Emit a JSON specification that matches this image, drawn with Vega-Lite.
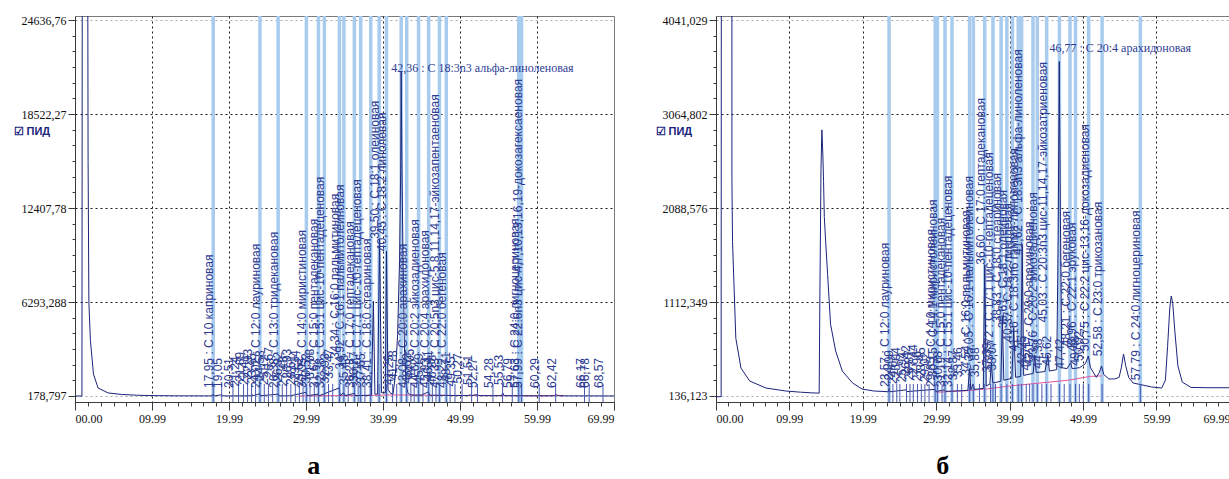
{
  "$schema": "https://vega.github.io/schema/vega-lite/v6.json",
  "background": "white",
  "padding": {"left": 12, "top": 13, "right": 0, "bottom": 0},
  "config": {
    "view": {"stroke": "#7a7a7a", "strokeWidth": 1},
    "axis": {"domainColor": "#3a3a3a", "tickColor": "#3a3a3a", "labelFont": "Liberation Sans Narrow", "labelFontSize": 12, "labelColor": "#111111", "labelPadding": 2}
  },
  "datasets": {
    "traceA": [
      {"t":0,"v":175},{"t":0.9,"v":178},{"t":0.95,"v":30000},{"t":1.65,"v":30000},{"t":1.7,"v":15500},{"t":1.8,"v":6300},{"t":2.0,"v":3800},{"t":2.4,"v":1600},{"t":3.0,"v":700},{"t":4.3,"v":380},{"t":6.0,"v":280},{"t":8.0,"v":230},{"t":10,"v":205},{"t":13,"v":190},{"t":17.8,"v":185},{"t":17.95,"v":300},{"t":18.1,"v":185},{"t":19.05,"v":260},{"t":19.2,"v":185},{"t":22.9,"v":190},{"t":23.0,"v":280},{"t":23.1,"v":190},{"t":24.0,"v":330},{"t":24.1,"v":190},{"t":26.4,"v":300},{"t":26.5,"v":190},{"t":28.0,"v":190},{"t":30.0,"v":420},{"t":30.15,"v":195},{"t":31.6,"v":300},{"t":31.7,"v":195},{"t":34.3,"v":700},{"t":34.45,"v":200},{"t":34.9,"v":400},{"t":35.0,"v":200},{"t":36.3,"v":350},{"t":36.4,"v":205},{"t":38.5,"v":230},{"t":38.75,"v":6350},{"t":38.95,"v":300},{"t":39.3,"v":300},{"t":39.55,"v":10400},{"t":39.8,"v":400},{"t":40.3,"v":380},{"t":40.45,"v":9600},{"t":40.65,"v":600},{"t":41.0,"v":350},{"t":41.3,"v":300},{"t":41.6,"v":1500},{"t":41.9,"v":4200},{"t":42.15,"v":9000},{"t":42.3,"v":15000},{"t":42.36,"v":21300},{"t":42.45,"v":15500},{"t":42.6,"v":9000},{"t":42.8,"v":3000},{"t":43.0,"v":900},{"t":43.2,"v":420},{"t":43.5,"v":260},{"t":44.0,"v":230},{"t":45.0,"v":240},{"t":45.9,"v":450},{"t":46.05,"v":230},{"t":48.0,"v":220},{"t":49.0,"v":210},{"t":51.2,"v":205},{"t":51.3,"v":280},{"t":51.45,"v":205},{"t":52.3,"v":280},{"t":52.45,"v":200},{"t":55.4,"v":200},{"t":55.55,"v":380},{"t":55.75,"v":200},{"t":60.2,"v":185},{"t":60.3,"v":240},{"t":60.4,"v":185},{"t":62.3,"v":190},{"t":62.5,"v":260},{"t":62.8,"v":190},{"t":66.5,"v":185},{"t":66.6,"v":230},{"t":66.7,"v":185},{"t":70,"v":182}
    ],
    "baseA": [
      {"t":29,"v":185},{"t":38,"v":215},{"t":41,"v":250},{"t":47,"v":220},{"t":58,"v":200},{"t":61.5,"v":205},{"t":62.5,"v":225},{"t":63.5,"v":200}
    ],
    "greenA": [{"t":30.3},{"t":34.6},{"t":43.7}],
    "peaksA": [
      {"t":17.95,"v":700,"lab":"17,95 : С 10 каприновая","k":"n"},
      {"t":19.05,"v":700,"lab":"19,05","k":"u"},
      {"t":20.51,"v":700,"lab":"20,51","k":"u"},
      {"t":21.24,"v":800,"lab":"21,24","k":"u"},
      {"t":21.89,"v":1100,"lab":"21,89","k":"u"},
      {"t":22.41,"v":900,"lab":"22,41","k":"u"},
      {"t":22.93,"v":1300,"lab":"22,93","k":"u"},
      {"t":23.45,"v":1000,"lab":"23,45","k":"u"},
      {"t":24.02,"v":700,"lab":"24,02 : С 12:0 лауриновая","k":"n"},
      {"t":24.58,"v":1200,"lab":"24,58","k":"u"},
      {"t":25.12,"v":900,"lab":"25,12","k":"u"},
      {"t":25.67,"v":1400,"lab":"25,67","k":"u"},
      {"t":26.38,"v":700,"lab":"26,38 : С 13:0 тридекановая","k":"n"},
      {"t":26.92,"v":1100,"lab":"26,92","k":"u"},
      {"t":27.48,"v":800,"lab":"27,48","k":"u"},
      {"t":28.03,"v":1300,"lab":"28,03","k":"u"},
      {"t":28.61,"v":900,"lab":"28,61","k":"u"},
      {"t":29.14,"v":1200,"lab":"29,14","k":"u"},
      {"t":29.62,"v":800,"lab":"29,62","k":"u"},
      {"t":30.05,"v":700,"lab":"30,05 : С 14:0 миристиновая","k":"n"},
      {"t":30.52,"v":1000,"lab":"30,52","k":"u"},
      {"t":31.08,"v":1300,"lab":"31,08","k":"u"},
      {"t":31.62,"v":700,"lab":"31,62 : С 15:0 пентадекановая","k":"n"},
      {"t":32.38,"v":700,"lab":"32,38 : С 15:1 цис-10-пентадеценовая","k":"n"},
      {"t":32.93,"v":1000,"lab":"32,93","k":"u"},
      {"t":33.47,"v":1300,"lab":"33,47","k":"u"},
      {"t":34.34,"v":2600,"lab":"34,34 : С 16:0 пальмитиновая","k":"n"},
      {"t":34.92,"v":1900,"lab":"34,92 : С 16:1 пальмитолеиновая","k":"n"},
      {"t":35.48,"v":900,"lab":"35,48","k":"u"},
      {"t":36.28,"v":700,"lab":"36,28 : С 17:0 гептадекановая","k":"n"},
      {"t":36.77,"v":1100,"lab":"36,77","k":"u"},
      {"t":37.10,"v":700,"lab":"37,10 : С 17:1 цис-10-гептадеценовая","k":"n"},
      {"t":37.65,"v":1000,"lab":"37,65","k":"u"},
      {"t":38.41,"v":700,"lab":"38,41 : С 18:0 стеариновая","k":"n"},
      {"t":39.50,"v":10400,"lab":"39,50 : С 18:1 олеиновая","k":"n"},
      {"t":40.45,"v":9600,"lab":"40,45 : С 18:2 линолевая","k":"n"},
      {"t":41.25,"v":900,"lab":"41,25","k":"u"},
      {"t":41.78,"v":1200,"lab":"41,78","k":"u"},
      {"t":42.36,"v":21300,"lab":"42,36 : С 18:3n3 альфа-линоленовая","k":"t"},
      {"t":43.08,"v":700,"lab":"43,08 : С 20:0 арахиновая","k":"n"},
      {"t":43.62,"v":1000,"lab":"43,62","k":"u"},
      {"t":44.05,"v":1300,"lab":"44,05","k":"u"},
      {"t":44.62,"v":700,"lab":"44,62 : С 20:2 эйкозадиеновая","k":"n"},
      {"t":45.19,"v":1000,"lab":"45,19","k":"u"},
      {"t":45.93,"v":700,"lab":"45,93 : С 20:4 арахидоновая","k":"n"},
      {"t":46.41,"v":1200,"lab":"46,41","k":"u"},
      {"t":46.88,"v":900,"lab":"46,88","k":"u"},
      {"t":47.33,"v":700,"lab":"47,33 : С 20:5n3 цис-5,8,11,14,17-эйкозапентаеновая","k":"n"},
      {"t":48.22,"v":700,"lab":"48,22 : С 22:0 бегеновая","k":"n"},
      {"t":48.71,"v":1100,"lab":"48,71","k":"u"},
      {"t":49.35,"v":800,"lab":"49,35","k":"u"},
      {"t":50.27,"v":1000,"lab":"50,27","k":"u"},
      {"t":51.51,"v":900,"lab":"51,51","k":"u"},
      {"t":52.27,"v":700,"lab":"52,27","k":"u"},
      {"t":54.28,"v":700,"lab":"54,28","k":"u"},
      {"t":55.53,"v":900,"lab":"55,53","k":"u"},
      {"t":56.79,"v":700,"lab":"56,79","k":"u"},
      {"t":57.63,"v":700,"lab":"57,63 : С 24:0 лигноцериновая","k":"n"},
      {"t":57.99,"v":700,"lab":"57,99 : С 22:6n3 цис-4,7,10,13,16,19-докозагексаеновая","k":"n"},
      {"t":60.29,"v":700,"lab":"60,29","k":"u"},
      {"t":62.42,"v":700,"lab":"62,42","k":"u"},
      {"t":66.17,"v":700,"lab":"66,17","k":"u"},
      {"t":66.78,"v":700,"lab":"66,78","k":"u"},
      {"t":68.57,"v":700,"lab":"68,57","k":"u"}
    ],
    "traceB": [
      {"t":0,"v":128},{"t":0.7,"v":130},{"t":0.75,"v":9000},{"t":2.15,"v":9000},{"t":2.17,"v":2362},{"t":2.25,"v":1740},{"t":2.7,"v":736},{"t":3.4,"v":426},{"t":4.6,"v":291},{"t":6.8,"v":219},{"t":9.5,"v":188},{"t":11.5,"v":176},{"t":13.2,"v":168},{"t":14.05,"v":166},{"t":14.15,"v":1200},{"t":14.3,"v":2500},{"t":14.42,"v":2900},{"t":14.55,"v":2650},{"t":14.65,"v":2362},{"t":14.75,"v":2000},{"t":14.93,"v":1741},{"t":15.2,"v":1399},{"t":15.6,"v":881},{"t":16.3,"v":602},{"t":17.2,"v":395},{"t":18.6,"v":271},{"t":19.9,"v":208},{"t":21.5,"v":188},{"t":23.5,"v":180},{"t":23.57,"v":215},{"t":23.7,"v":180},{"t":25.9,"v":200},{"t":26.0,"v":182},{"t":29.8,"v":205},{"t":29.9,"v":182},{"t":31.1,"v":200},{"t":31.3,"v":185},{"t":32.5,"v":188},{"t":34.3,"v":195},{"t":34.54,"v":420},{"t":34.7,"v":200},{"t":35.0,"v":260},{"t":35.2,"v":205},{"t":36.4,"v":215},{"t":36.6,"v":1500},{"t":36.8,"v":240},{"t":37.3,"v":260},{"t":37.5,"v":480},{"t":37.7,"v":270},{"t":38.8,"v":290},{"t":39.0,"v":960},{"t":39.2,"v":300},{"t":40.3,"v":320},{"t":40.55,"v":840},{"t":40.8,"v":330},{"t":41.5,"v":340},{"t":41.7,"v":1710},{"t":41.9,"v":350},{"t":42.5,"v":360},{"t":43.2,"v":370},{"t":43.4,"v":560},{"t":43.6,"v":380},{"t":44.8,"v":390},{"t":45.2,"v":560},{"t":45.4,"v":395},{"t":46.4,"v":410},{"t":46.6,"v":1800},{"t":46.75,"v":3610},{"t":46.9,"v":2000},{"t":47.1,"v":430},{"t":47.8,"v":420},{"t":48.3,"v":480},{"t":48.5,"v":420},{"t":49.5,"v":430},{"t":50.3,"v":470},{"t":50.7,"v":551},{"t":51.0,"v":430},{"t":51.8,"v":330},{"t":52.2,"v":380},{"t":52.5,"v":448},{"t":52.8,"v":360},{"t":53.5,"v":313},{"t":54.3,"v":313},{"t":54.9,"v":330},{"t":55.2,"v":430},{"t":55.5,"v":572},{"t":55.8,"v":450},{"t":56.2,"v":330},{"t":56.8,"v":271},{"t":57.5,"v":260},{"t":59.3,"v":230},{"t":60.7,"v":219},{"t":61.2,"v":300},{"t":61.5,"v":650},{"t":61.8,"v":1050},{"t":62.0,"v":1175},{"t":62.2,"v":1100},{"t":62.5,"v":800},{"t":62.9,"v":450},{"t":63.5,"v":280},{"t":64.7,"v":225},{"t":67,"v":222},{"t":70,"v":222}
    ],
    "baseB": [
      {"t":30,"v":175},{"t":34,"v":190},{"t":37,"v":210},{"t":40,"v":240},{"t":44,"v":270},{"t":48,"v":300},{"t":51,"v":340},{"t":52.5,"v":345}
    ],
    "greenB": [{"t":43.7}],
    "peaksB": [
      {"t":23.57,"v":230,"lab":"23,57 : С 12:0 лауриновая","k":"n"},
      {"t":24.09,"v":300,"lab":"24,09","k":"u"},
      {"t":24.62,"v":260,"lab":"24,62","k":"u"},
      {"t":25.04,"v":330,"lab":"25,04","k":"u"},
      {"t":25.94,"v":280,"lab":"25,94","k":"u"},
      {"t":26.42,"v":350,"lab":"26,42","k":"u"},
      {"t":26.87,"v":300,"lab":"26,87","k":"u"},
      {"t":27.44,"v":360,"lab":"27,44","k":"u"},
      {"t":27.96,"v":290,"lab":"27,96","k":"u"},
      {"t":28.45,"v":330,"lab":"28,45","k":"u"},
      {"t":29.02,"v":280,"lab":"29,02","k":"u"},
      {"t":29.85,"v":230,"lab":"29,85 : С 14:0 миристиновая","k":"n"},
      {"t":30.15,"v":330,"lab":"30,15 : С 14:1 миристолеиновая","k":"n"},
      {"t":30.78,"v":290,"lab":"30,78","k":"u"},
      {"t":31.19,"v":230,"lab":"31,19 : С 15:0 пентадекановая","k":"n"},
      {"t":32.14,"v":230,"lab":"32,14 : С 15:1 цис-10-пентадеценовая","k":"n"},
      {"t":32.87,"v":300,"lab":"32,87","k":"u"},
      {"t":33.46,"v":330,"lab":"33,46","k":"u"},
      {"t":34.54,"v":350,"lab":"34,54 : С 16:0 пальмитиновая","k":"n"},
      {"t":35.05,"v":500,"lab":"35,05 : С 16:1 пальмитолеиновая","k":"n"},
      {"t":35.88,"v":330,"lab":"35,88","k":"u"},
      {"t":36.60,"v":1500,"lab":"36,60 : С 17:0 гептадекановая","k":"n"},
      {"t":37.39,"v":380,"lab":"37,39","k":"u"},
      {"t":37.72,"v":500,"lab":"37,72 : С 17:1 цис-10-гептадеценовая","k":"n"},
      {"t":38.07,"v":400,"lab":"38,07","k":"u"},
      {"t":38.83,"v":900,"lab":"38,83 : С 18:0 стеариновая","k":"n"},
      {"t":39.61,"v":840,"lab":"39,61 : С 18:1 олеиновая","k":"n"},
      {"t":40.37,"v":700,"lab":"40,37 : С 18:2 линолевая","k":"n"},
      {"t":41.16,"v":600,"lab":"41,16 : С 18:3n6 гамма-линоленовая","k":"n"},
      {"t":41.62,"v":1600,"lab":"41,62 : С 18:3n3 альфа-линоленовая","k":"n"},
      {"t":42.25,"v":450,"lab":"42,25","k":"u"},
      {"t":42.71,"v":400,"lab":"42,71","k":"u"},
      {"t":43.17,"v":450,"lab":"43,17 : С 20:0 арахиновая","k":"n"},
      {"t":43.76,"v":500,"lab":"43,76 : С 20:2 эйкозадиеновая","k":"n"},
      {"t":44.38,"v":420,"lab":"44,38","k":"u"},
      {"t":45.03,"v":900,"lab":"45,03 : С 20:3n3 цис-11,14,17-эйкозатриеновая","k":"n"},
      {"t":45.62,"v":450,"lab":"45,62","k":"u"},
      {"t":46.77,"v":3610,"lab":"46,77 : С 20:4 арахидоновая","k":"t"},
      {"t":47.42,"v":420,"lab":"47,42","k":"u"},
      {"t":48.21,"v":650,"lab":"48,21 : С 22:0 бегеновая","k":"n"},
      {"t":48.96,"v":600,"lab":"48,96 : С 22:1 эруковая","k":"n"},
      {"t":49.48,"v":450,"lab":"49,48","k":"u"},
      {"t":50.02,"v":500,"lab":"50,02","k":"u"},
      {"t":50.75,"v":600,"lab":"50,75 : С 22:2 цис-13,16-докозадиеновая","k":"n"},
      {"t":52.58,"v":550,"lab":"52,58 : С 23:0 трикозановая","k":"n"},
      {"t":57.79,"v":300,"lab":"57,79 : С 24:0 лигноцериновая","k":"n"}
    ]
  },
  "hconcat": [
    {
      "width": 539,
      "height": 386,
      "title": {"text": "а", "orient": "bottom", "anchor": "middle", "frame": "bounds", "font": "Liberation Serif", "fontSize": 26, "fontWeight": "bold", "color": "#000000", "baseline": "alphabetic", "offset": 50},
      "encoding": {
        "x": {"field": "t", "type": "quantitative", "scale": {"domain": [0, 70], "nice": false, "zero": false},
          "axis": {"title": null, "values": [0,1.667,3.333,5,6.667,8.333,9.99,11.667,13.333,15,16.667,18.333,19.99,21.667,23.333,25,26.667,28.333,29.99,31.667,33.333,35,36.667,38.333,39.99,41.667,43.333,45,46.667,48.333,49.99,51.667,53.333,55,56.667,58.333,59.99,61.667,63.333,65,66.667,68.333,69.99],
            "labelExpr": "indexof([0,9.99,19.99,29.99,39.99,49.99,59.99,69.99], datum.value) >= 0 ? format(datum.value, '05.2f') : ''",
            "labelFlush": true, "labelPadding": 3,
            "tickSize": {"condition": {"test": "indexof([0,9.99,19.99,29.99,39.99,49.99,59.99,69.99], datum.value) >= 0", "value": 8}, "value": 4},
            "grid": true, "gridColor": "#1a1a1a", "gridDash": [2, 3],
            "gridOpacity": {"condition": {"test": "indexof([9.99,19.99,29.99,39.99,49.99,59.99], datum.value) >= 0", "value": 1}, "value": 0}}},
        "y": {"field": "v", "type": "quantitative", "scale": {"domain": [-211.5, 24897], "nice": false, "zero": false},
          "axis": {"title": "☑ ПИД", "titleAngle": 0, "titleX": -62, "titleY": 115, "titleAlign": "left", "titleBaseline": "middle", "titleColor": "#1a237e", "titleFont": "Liberation Sans", "titleFontSize": 11, "titleFontWeight": "bold",
            "values": [178.797,1197.88,2216.96,3236.04,4255.12,5274.2,6293.288,7312.37,8331.45,9350.53,10369.61,11388.7,12407.78,13426.86,14445.94,15465.02,16484.11,17503.19,18522.27,19541.35,20560.43,21579.52,22598.6,23617.68,24636.76],
            "labelExpr": "indexof([178.797,6293.288,12407.78,18522.27,24636.76], datum.value) >= 0 ? replace(toString(datum.value), '.', ',') : ''",
            "tickSize": {"condition": {"test": "indexof([178.797,6293.288,12407.78,18522.27,24636.76], datum.value) >= 0", "value": 7}, "value": 3},
            "grid": true, "gridDash": [2, 3],
            "gridColor": {"condition": {"test": "datum.value == 178.797 || datum.value == 24636.76", "value": "#a8a8a8"}, "value": "#1a1a1a"},
            "gridOpacity": {"condition": {"test": "indexof([178.797,6293.288,12407.78,18522.27,24636.76], datum.value) >= 0", "value": 1}, "value": 0}}}
      },
      "layer": [
        {"data": {"name": "peaksA"}, "transform": [{"filter": "datum.k != 'u'"}], "mark": {"type": "rule", "color": "#a8cbee", "strokeWidth": 3.5},
          "encoding": {"y": {"datum": -211.5}, "y2": {"datum": 24897}}},
        {"data": {"name": "greenA"}, "mark": {"type": "rule", "color": "#5cb85c", "strokeWidth": 1.5},
          "encoding": {"y": {"datum": -211.5}, "y2": {"datum": 24897}}},
        {"data": {"name": "baseA"}, "mark": {"type": "line", "color": "#e0559e", "strokeWidth": 1}, "encoding": {}},
        {"data": {"name": "traceA"}, "mark": {"type": "line", "color": "#1b2478", "strokeWidth": 1, "clip": true}, "encoding": {}},
        {"data": {"name": "peaksA"}, "mark": {"type": "rule", "color": "#4a5ab0", "strokeWidth": 1},
          "encoding": {"y": {"datum": -211.5}, "y2": {"datum": 960}}},
        {"data": {"name": "peaksA"}, "transform": [{"filter": "datum.k != 't'"}],
          "mark": {"type": "text", "angle": 270, "align": "left", "baseline": "middle", "dy": -4, "font": "Liberation Sans", "fontSize": 12, "color": "#2d3c93"},
          "encoding": {"text": {"field": "lab"}}},
        {"data": {"name": "peaksA"}, "transform": [{"filter": "datum.k == 't'"}],
          "mark": {"type": "text", "align": "left", "baseline": "middle", "dx": -10, "dy": -3, "font": "Liberation Sans Narrow", "fontSize": 12, "color": "#2d3c93"},
          "encoding": {"text": {"field": "lab"}}}
      ]
    },
    {
      "width": 514,
      "height": 386,
      "title": {"text": "б", "orient": "bottom", "anchor": "middle", "frame": "bounds", "font": "Liberation Serif", "fontSize": 26, "fontWeight": "bold", "color": "#000000", "baseline": "alphabetic", "offset": 50},
      "encoding": {
        "x": {"field": "t", "type": "quantitative", "scale": {"domain": [0, 70], "nice": false, "zero": false},
          "axis": {"title": null, "values": [0,1.667,3.333,5,6.667,8.333,9.99,11.667,13.333,15,16.667,18.333,19.99,21.667,23.333,25,26.667,28.333,29.99,31.667,33.333,35,36.667,38.333,39.99,41.667,43.333,45,46.667,48.333,49.99,51.667,53.333,55,56.667,58.333,59.99,61.667,63.333,65,66.667,68.333,69.99],
            "labelExpr": "indexof([0,9.99,19.99,29.99,39.99,49.99,59.99,69.99], datum.value) >= 0 ? format(datum.value, '05.2f') : ''",
            "labelFlush": true, "labelPadding": 3,
            "tickSize": {"condition": {"test": "indexof([0,9.99,19.99,29.99,39.99,49.99,59.99,69.99], datum.value) >= 0", "value": 8}, "value": 4},
            "grid": true, "gridColor": "#1a1a1a", "gridDash": [2, 3],
            "gridOpacity": {"condition": {"test": "indexof([9.99,19.99,29.99,39.99,49.99,59.99], datum.value) >= 0", "value": 1}, "value": 0}}},
        "y": {"field": "v", "type": "quantitative", "scale": {"domain": [73.8, 4082.6], "nice": false, "zero": false},
          "axis": {"title": "☑ ПИД", "titleAngle": 0, "titleX": -61, "titleY": 115, "titleAlign": "left", "titleBaseline": "middle", "titleColor": "#1a237e", "titleFont": "Liberation Sans", "titleFontSize": 11, "titleFontWeight": "bold",
            "values": [136.123,298.83,461.53,624.24,786.94,949.64,1112.349,1275.05,1437.76,1600.46,1763.17,1925.87,2088.576,2251.28,2413.98,2576.69,2739.39,2902.1,3064.802,3227.51,3390.21,3552.91,3715.62,3878.32,4041.029],
            "labelExpr": "indexof([136.123,1112.349,2088.576,3064.802,4041.029], datum.value) >= 0 ? replace(toString(datum.value), '.', ',') : ''",
            "tickSize": {"condition": {"test": "indexof([136.123,1112.349,2088.576,3064.802,4041.029], datum.value) >= 0", "value": 7}, "value": 3},
            "grid": true, "gridDash": [2, 3],
            "gridColor": {"condition": {"test": "datum.value == 136.123 || datum.value == 4041.029", "value": "#a8a8a8"}, "value": "#1a1a1a"},
            "gridOpacity": {"condition": {"test": "indexof([136.123,1112.349,2088.576,3064.802,4041.029], datum.value) >= 0", "value": 1}, "value": 0}}}
      },
      "layer": [
        {"data": {"name": "peaksB"}, "transform": [{"filter": "datum.k != 'u'"}], "mark": {"type": "rule", "color": "#a8cbee", "strokeWidth": 3.5},
          "encoding": {"y": {"datum": 73.8}, "y2": {"datum": 4082.6}}},
        {"data": {"name": "greenB"}, "mark": {"type": "rule", "color": "#5cb85c", "strokeWidth": 1.5},
          "encoding": {"y": {"datum": 73.8}, "y2": {"datum": 4082.6}}},
        {"data": {"name": "baseB"}, "mark": {"type": "line", "color": "#e0559e", "strokeWidth": 1}, "encoding": {}},
        {"data": {"name": "traceB"}, "mark": {"type": "line", "color": "#1b2478", "strokeWidth": 1, "clip": true}, "encoding": {}},
        {"data": {"name": "peaksB"}, "mark": {"type": "rule", "color": "#4a5ab0", "strokeWidth": 1},
          "encoding": {"y": {"datum": 73.8}, "y2": {"datum": 261}}},
        {"data": {"name": "peaksB"}, "transform": [{"filter": "datum.k != 't'"}],
          "mark": {"type": "text", "angle": 270, "align": "left", "baseline": "middle", "dy": -4, "font": "Liberation Sans", "fontSize": 12, "color": "#2d3c93"},
          "encoding": {"text": {"field": "lab"}}},
        {"data": {"name": "peaksB"}, "transform": [{"filter": "datum.k == 't'"}],
          "mark": {"type": "text", "align": "left", "baseline": "middle", "dx": -10, "dy": -14, "font": "Liberation Sans Narrow", "fontSize": 12, "color": "#2d3c93"},
          "encoding": {"text": {"field": "lab"}}}
      ]
    }
  ],
  "spacing": 39
}
